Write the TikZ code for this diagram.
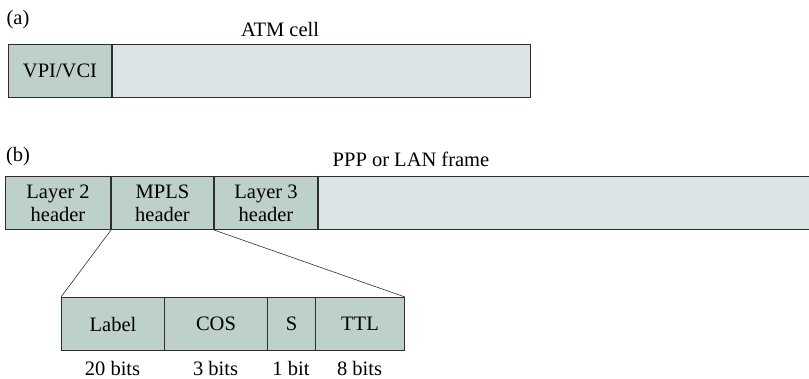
\documentclass[tikz,border=0pt]{standalone}
\usepackage{fontspec}
\setmainfont{Liberation Serif}
\usetikzlibrary{positioning}
\definecolor{hdrfill}{HTML}{BDD0CC}
\definecolor{bodyfill}{HTML}{DCE4E6}
\definecolor{edgegray}{HTML}{2E2E2E}
\tikzset{
 field/.style={draw=edgegray,line width=1pt,fill=hdrfill,minimum height=53pt,
  inner sep=0pt,anchor=north west,align=center},
 body/.style={field,fill=bodyfill},
 size/.style={anchor=base,inner sep=0pt},
 zoomline/.style={draw=edgegray,line width=0.6pt}
}

\begin{document}
\begin{tikzpicture}[x=1pt,y=-1pt,font=\fontsize{20.5}{23}\selectfont]
 \useasboundingbox (0,0) rectangle (809,378);
 % (a) ATM cell
 \node[anchor=base] (tagA) at (18,24) {(a)};
 \node[anchor=base] (atmtxt) at (280,36) {ATM cell};
 \node[field,minimum width=103pt] (vpi) at (8,44) {VPI/VCI};
 \node[body,minimum width=418pt] (atm) at (vpi.north east) {};
 % (b) MPLS over PPP/LAN
 \node[anchor=base] (tagB) at (18,161) {(b)};
 \node[anchor=base] (frametxt) at (411,166) {PPP or LAN frame};
 \node[field,minimum width=105pt] (ltwo) at (5,176) {Layer 2\\header};
 \node[field,minimum width=102pt] (mpls) at (ltwo.north east) {MPLS\\header};
 \node[field,minimum width=103pt] (lthree) at (mpls.north east) {Layer 3\\header};
 \node[body,minimum width=500pt] (payload) at (lthree.north east) {};
 % label stack entry
 \foreach \n/\x/\w/\t/\b in {lab/61/103/Label/20 bits,cos/164/103/COS/3 bits,
   sbit/267/48/S/1 bit,ttl/315/89/TTL/8 bits}{
  \node[field,minimum width=\w pt] (\n) at (\x,297) {\t};
  \node[size] (\n-size) at (\x+\w/2,375) {\b};
 }
 \draw[zoomline] (mpls.south west) -- (lab.north west);
 \draw[zoomline] (mpls.south east) -- (ttl.north east);
\end{tikzpicture}
\end{document}
